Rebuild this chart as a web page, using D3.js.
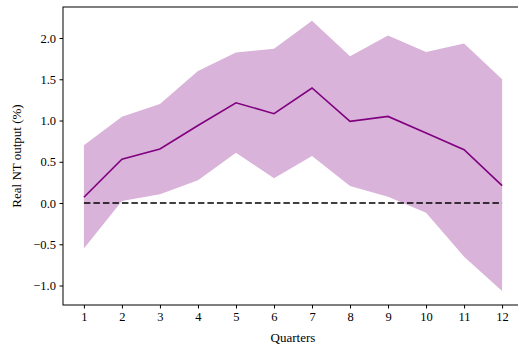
<!DOCTYPE html>
<html>
<head>
<meta charset="utf-8">
<script src="https://cdn.jsdelivr.net/npm/d3@7"></script>
<style>
  html, body { margin: 0; padding: 0; background: #fff; }
  svg { display: block; }
  text { font-family: "Liberation Serif", "DejaVu Serif", serif; fill: #000; }
</style>
</head>
<body>
<svg id="chart" width="518" height="346"></svg>
<script>
const quarters = [1, 2, 3, 4, 5, 6, 7, 8, 9, 10, 11, 12];
const meanIRF  = [0.07, 0.53, 0.655, 0.94, 1.215, 1.083, 1.394, 0.99, 1.05, 0.85, 0.646, 0.21];
const upperIRF = [0.70, 1.046, 1.20, 1.60, 1.826, 1.87, 2.21, 1.78, 2.03, 1.83, 1.935, 1.50];
const lowerIRF = [-0.55, 0.024, 0.105, 0.275, 0.61, 0.30, 0.57, 0.206, 0.076, -0.117, -0.65, -1.067];
const yTicks = [-1.0, -0.5, 0.0, 0.5, 1.0, 1.5, 2.0];
const xLabel = "Quarters";
const yLabel = "Real NT output (%)";

const svg = d3.select("#chart");
const mLeft = 63, mRight = 523, mTop = 7, mBottom = 305;

const x = d3.scaleLinear().domain([0.45, 12.55]).range([mLeft, mRight]);
const y = d3.scaleLinear().domain([-1.236, 2.376]).range([mBottom, mTop]);

const data = quarters.map((q, i) => ({ q, m: meanIRF[i], u: upperIRF[i], l: lowerIRF[i] }));

// band
svg.append("path")
  .datum(data)
  .attr("fill", "#d9b3d9")
  .attr("d", d3.area().x(d => x(d.q)).y0(d => y(d.l)).y1(d => y(d.u)));

// zero line
svg.append("line")
  .attr("x1", x(quarters[0])).attr("x2", x(quarters[quarters.length - 1]))
  .attr("y1", y(0)).attr("y2", y(0))
  .attr("stroke", "#000").attr("stroke-width", 1.5)
  .attr("stroke-dasharray", "6.5,3");

// mean line
svg.append("path")
  .datum(data)
  .attr("fill", "none")
  .attr("stroke", "#800080")
  .attr("stroke-width", 1.6)
  .attr("d", d3.line().x(d => x(d.q)).y(d => y(d.m)));

// axes
const xAxis = svg.append("g")
  .attr("transform", `translate(0,${mBottom})`)
  .call(d3.axisBottom(x).tickValues(quarters).tickFormat(d3.format("d")).tickSize(3.5).tickPadding(3.5));
const yAxis = svg.append("g")
  .attr("transform", `translate(${mLeft},0)`)
  .call(d3.axisLeft(y).tickValues(yTicks).tickFormat(d => d < 0 ? "\u2212" + d3.format(".1f")(-d) : d3.format(".1f")(d)).tickSize(3.5).tickPadding(3.5));

[xAxis, yAxis].forEach(g => {
  g.select(".domain").remove();
  g.selectAll("text").attr("font-size", 12.5).style("font-family", '"Liberation Serif", serif');
  g.selectAll("line").attr("stroke", "#000").attr("stroke-width", 1);
});

// frame
svg.append("rect")
  .attr("x", mLeft).attr("y", mTop)
  .attr("width", mRight - mLeft).attr("height", mBottom - mTop)
  .attr("fill", "none").attr("stroke", "#000").attr("stroke-width", 1);

// labels
svg.append("text")
  .attr("x", (mLeft + mRight) / 2).attr("y", 342)
  .attr("text-anchor", "middle").attr("font-size", 13)
  .text(xLabel);

svg.append("text")
  .attr("transform", `translate(21,${(mTop + mBottom) / 2}) rotate(-90)`)
  .attr("text-anchor", "middle").attr("font-size", 13)
  .text(yLabel);
</script>
</body>
</html>
